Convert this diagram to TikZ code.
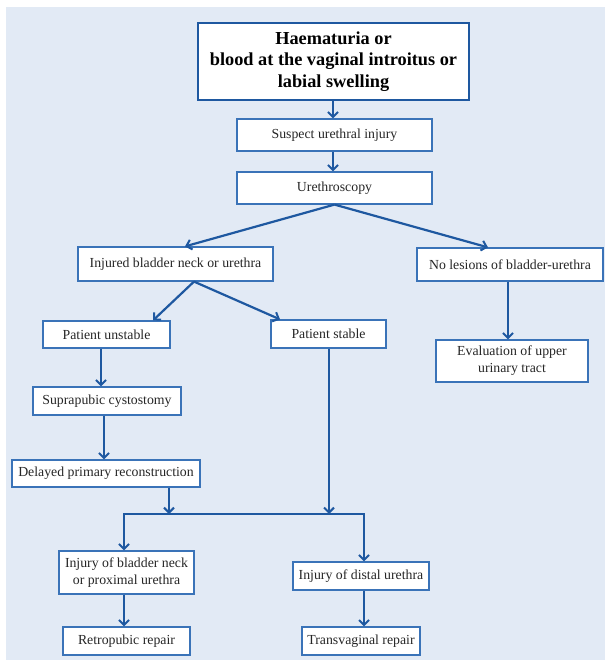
\documentclass[tikz,border=0pt]{standalone}
\usepackage{fontspec}
\setmainfont{Liberation Serif}
\usetikzlibrary{arrows.meta}
\definecolor{bgblue}{HTML}{E2EAF5}
\definecolor{boxblue}{HTML}{3A73B8}
\definecolor{arrblue}{HTML}{1E58A0}
\begin{document}
\begin{tikzpicture}[x=1pt,y=-1pt,
  box/.style={draw=boxblue,line width=1.2pt,fill=white,inner sep=0pt,align=center,
    font=\fontsize{13.8}{16.8}\selectfont,text=black!85},
  topbox/.style={draw=arrblue,line width=2pt,fill=white,inner sep=0pt,align=center,
    font=\fontsize{18.3}{21.8}\selectfont\bfseries,text=black},
  arr/.style={draw=arrblue,line width=2.2pt,-{Straight Barb[length=5pt,width=10pt,line width=2pt]}},
  ln/.style={draw=arrblue,line width=2.2pt}]
\useasboundingbox (0,0) rectangle (605,660);
\fill[bgblue] (6,7) rectangle (605,660);
% boxes
\node[topbox,minimum width=271pt,minimum height=77pt] (top) at (333.5,61.5) {Haematuria or\\blood at the vaginal introitus or\\labial swelling};
\node[box,minimum width=195pt,minimum height=32pt] (susp) at (334.5,135) {Suspect urethral injury};
\node[box,minimum width=195pt,minimum height=32pt] (uro) at (334.5,188) {Urethroscopy};
\node[box,minimum width=195pt,minimum height=34pt] (inj) at (175.5,264) {Injured bladder neck or urethra};
\node[box,minimum width=186pt,minimum height=33pt] (nol) at (510,264.5) {No lesions of bladder-urethra};
\node[box,minimum width=127pt,minimum height=27pt] (unst) at (106.5,334.5) {Patient unstable};
\node[box,minimum width=115pt,minimum height=28pt] (stab) at (328.5,334) {Patient stable};
\node[box,minimum width=152pt,minimum height=42pt] (eval) at (512,361) {Evaluation of upper\\urinary tract};
\node[box,minimum width=148pt,minimum height=28pt] (supra) at (107,401) {Suprapubic cystostomy};
\node[box,minimum width=188pt,minimum height=27pt] (del) at (106,473.5) {Delayed primary reconstruction};
\node[box,minimum width=135pt,minimum height=43pt] (ibn) at (126.5,572.5) {Injury of bladder neck\\or proximal urethra};
\node[box,minimum width=136pt,minimum height=28pt] (idu) at (361,576) {Injury of distal urethra};
\node[box,minimum width=127pt,minimum height=28pt] (retro) at (126.5,641) {Retropubic repair};
\node[box,minimum width=118pt,minimum height=28pt] (trans) at (361,641) {Transvaginal repair};
% junction coordinates
\coordinate (barL) at (124,514);
\coordinate (barR) at (364,514);
\coordinate (delJ) at (169,514);
\coordinate (stabJ) at (329,514);
% connectors
\draw[arr] (top.south -| 333,0) -- (susp.north -| 333,0);
\draw[arr] (susp.south -| 333,0) -- (uro.north -| 333,0);
\draw[arr] (uro.south) -- (inj.north -| 185,0);
\draw[arr] (uro.south) -- (nol.north -| 488,0);
\draw[arr] (inj.south -| 194,0) -- (unst.north -| 153,0);
\draw[arr] (inj.south -| 194,0) -- (stab.north -| 280,0);
\draw[arr] (nol.south -| 508,0) -- (eval.north -| 508,0);
\draw[arr] (unst.south -| 101,0) -- (supra.north -| 101,0);
\draw[arr] (supra.south -| 104,0) -- (del.north -| 104,0);
\draw[arr] (del.south -| 169,0) -- (delJ);
\draw[arr] (stab.south -| 329,0) -- (stabJ);
\draw[ln,line cap=rect] (barL) -- (barR);
\draw[arr] (barL) -- (ibn.north -| barL);
\draw[arr] (barR) -- (idu.north -| barR);
\draw[arr] (ibn.south -| 124,0) -- (retro.north -| 124,0);
\draw[arr] (idu.south -| 364,0) -- (trans.north -| 364,0);
\end{tikzpicture}
\end{document}
